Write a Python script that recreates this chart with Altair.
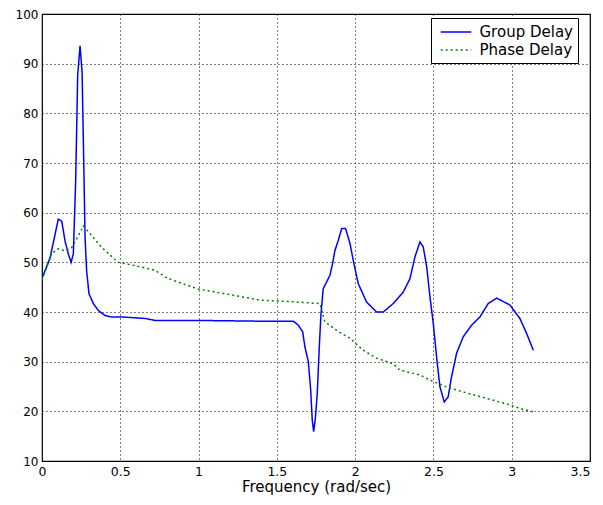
import altair as alt
import pandas as pd

# Group delay (blue)
gd_x = [0.0, 0.05, 0.084, 0.104, 0.126, 0.147, 0.168, 0.186, 0.2, 0.215, 0.228, 0.243,
        0.256, 0.268, 0.275, 0.285, 0.3, 0.328, 0.36, 0.402, 0.445, 0.509, 0.66, 0.722,
        1.0, 1.392, 1.605, 1.637, 1.665, 1.679, 1.701, 1.716, 1.726, 1.735, 1.745, 1.758,
        1.771, 1.782, 1.796, 1.818, 1.839, 1.856, 1.871, 1.892, 1.914, 1.939, 1.967, 1.992,
        2.02, 2.073, 2.137, 2.18, 2.243, 2.307, 2.35, 2.382, 2.414, 2.435, 2.457, 2.478,
        2.499, 2.52, 2.541, 2.569, 2.594, 2.616, 2.648, 2.69, 2.744, 2.797, 2.85, 2.904,
        2.989, 3.052, 3.095, 3.138]
gd_y = [46.8, 50.7, 55.7, 58.7, 58.3, 54.3, 51.7, 50.0, 51.7, 66.3, 87.7, 93.6,
        88.3, 67.7, 55.0, 48.3, 43.7, 41.7, 40.3, 39.3, 39.0, 39.0, 38.7, 38.3,
        38.3, 38.15, 38.15, 37.35, 36.0, 33.0, 30.0, 24.3, 18.25, 15.9, 18.25, 23.6,
        33.0, 39.7, 44.7, 46.05, 47.4, 49.75, 52.4, 54.4, 56.8, 56.8, 53.8, 49.75,
        45.7, 42.0, 40.0, 40.0, 41.7, 44.0, 46.7, 51.1, 54.1, 53.1, 49.1, 43.0,
        37.7, 31.0, 25.0, 21.9, 22.9, 27.0, 31.7, 35.0, 37.35, 39.0, 41.7, 42.8,
        41.4, 38.7, 35.7, 32.3]

# Phase delay (green, dotted)
pd_x = [0.0, 0.06, 0.1, 0.15, 0.19, 0.226, 0.264, 0.32, 0.381, 0.487, 0.6, 0.722,
        0.8, 1.0, 1.2, 1.392, 1.605, 1.775, 1.807, 1.882, 1.967, 2.052, 2.137, 2.243,
        2.286, 2.414, 2.499, 2.584, 2.712, 2.84, 2.967, 3.052, 3.138]
pd_y = [46.5, 51.7, 52.7, 52.3, 53.0, 55.0, 57.3, 55.3, 53.0, 50.0, 49.3, 48.4,
        46.8, 44.6, 43.5, 42.4, 42.05, 41.7, 38.0, 36.3, 34.7, 32.3, 30.7, 29.6,
        28.3, 27.3, 26.0, 24.9, 23.7, 22.6, 21.5, 20.6, 19.9]

series_names = ["Group Delay", "Phase Delay"]
series_colors = ["#0000ff", "#008000"]
x_ticks = [0, 0.5, 1, 1.5, 2, 2.5, 3, 3.5]
y_ticks = [10, 20, 30, 40, 50, 60, 70, 80, 90, 100]

rows = []
for i, (x, y) in enumerate(zip(gd_x, gd_y)):
    rows.append({"f": x, "d": y, "s": series_names[0], "o": i})
for i, (x, y) in enumerate(zip(pd_x, pd_y)):
    rows.append({"f": x, "d": y, "s": series_names[1], "o": i})
df = pd.DataFrame(rows)

FONT = "DejaVu Sans"

chart = alt.Chart(df).mark_line(strokeWidth=1.5, clip=True).encode(
    x=alt.X("f:Q", title="Frequency (rad/sec)",
            scale=alt.Scale(domain=[0, 3.5], nice=False),
            axis=alt.Axis(values=x_ticks, format="~g", labelFlush=False,
                          labelFontSize=12.5,
                          labelAlign=alt.condition("datum.value >= 3.5",
                                                   alt.value("right"),
                                                   alt.value("center")))),
    y=alt.Y("d:Q", title=None,
            scale=alt.Scale(domain=[10, 100], nice=False, zero=False),
            axis=alt.Axis(values=y_ticks, labelFlush=False, labelFontSize=12)),
    color=alt.Color("s:N", scale=alt.Scale(domain=series_names, range=series_colors),
                    legend=alt.Legend(title=None, orient="none", legendX=389, legendY=4,
                                      symbolType="M-1.8,0H1.8", symbolSize=289,
                                      symbolStrokeWidth=1.5, symbolOffset=11,
                                      fillColor="white", strokeColor="black",
                                      padding=4.5, rowPadding=0, labelOffset=14,
                                      labelExpr="datum.label + '\u00a0\u00a0'",
                                      labelFont=FONT, labelFontSize=15,
                                      labelColor="black")),
    strokeDash=alt.StrokeDash("s:N",
                              scale=alt.Scale(domain=series_names, range=[[1, 0], [2, 3]]),
                              legend=None),
    order="o:Q",
).properties(
    width=548, height=447,
    padding={"left": 34, "top": 6, "right": 5, "bottom": 36},
    autosize=alt.AutoSizeParams(type="none"),
).configure_view(
    stroke="black", strokeWidth=1.2
).configure_axis(
    grid=True, gridColor="black", gridDash=[1, 3], gridOpacity=1, gridWidth=1,
    domain=False, ticks=False, labelPadding=4,
    labelFont=FONT, labelColor="black",
    titleFont=FONT, titleFontSize=15, titleFontWeight="normal", titleColor="black",
    titlePadding=2,
)

chart.save("out.html", embed_options={"renderer": "svg", "actions": False})
